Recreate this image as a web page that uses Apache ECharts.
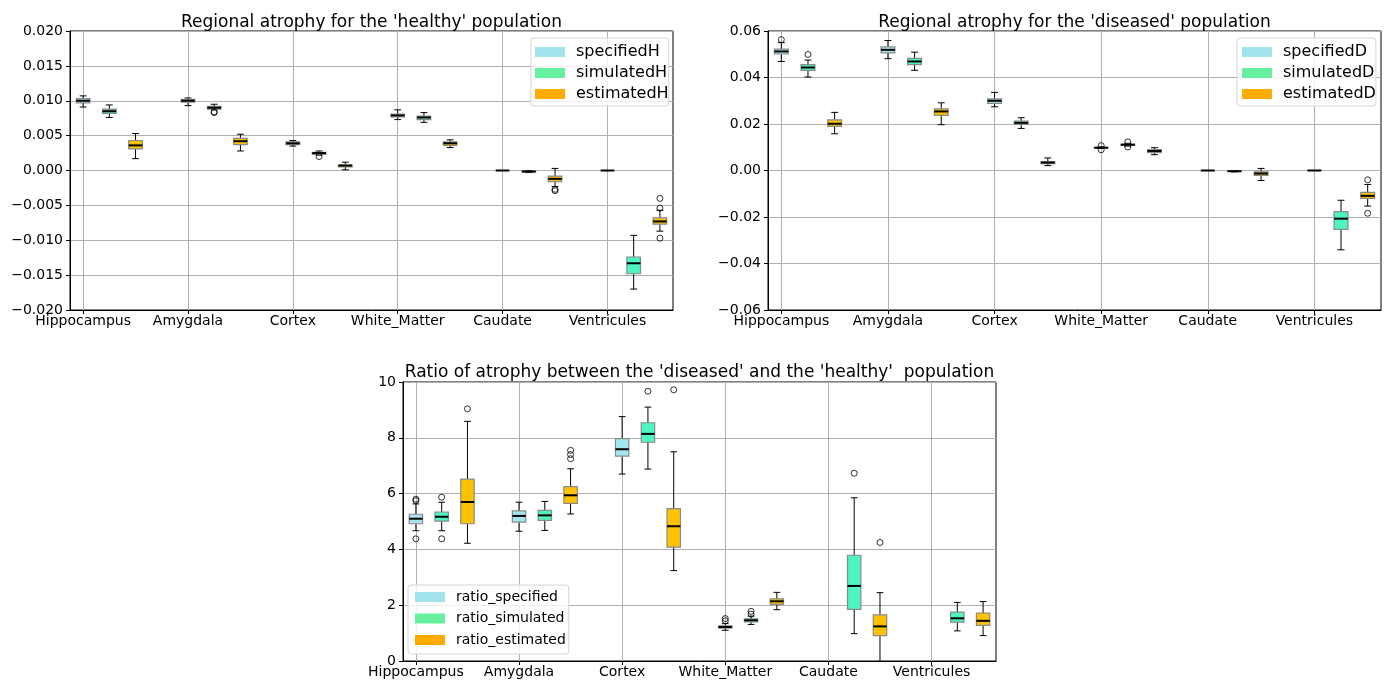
<!DOCTYPE html>
<html>
<head>
<meta charset="utf-8">
<script src="https://cdn.jsdelivr.net/npm/echarts@6/dist/echarts.min.js"></script>
<style>html,body{margin:0;padding:0;background:#fff}#c{width:1389px;height:683px}</style>
</head>
<body>
<div id="c"></div>
<script>
// ---------- DATA ----------
const regions = ['Hippocampus', 'Amygdala', 'Cortex', 'White_Matter', 'Caudate', 'Ventricules'];

// box stats: [min whisker, q1, median, q3, max whisker]
const specifiedH = [
  [0.0091, 0.0097, 0.0100, 0.0103, 0.0107],
  [0.0093, 0.0098, 0.0100, 0.0102, 0.0104],
  [0.0035, 0.0037, 0.0039, 0.0041, 0.0043],
  [0.0073, 0.0077, 0.0079, 0.0081, 0.0087],
  [0, 0, 0, 0, 0],
  [0, 0, 0, 0, 0]
];
const simulatedH = [
  [0.0076, 0.0082, 0.0085, 0.0088, 0.0094],
  [0.0087, 0.0088, 0.0090, 0.0092, 0.0095],
  [0.0022, 0.0023, 0.0025, 0.0026, 0.0028],
  [0.0069, 0.0073, 0.0076, 0.0078, 0.0083],
  [-0.0003, -0.0002, -0.00015, -0.0001, 0],
  [-0.0170, -0.0148, -0.0133, -0.0124, -0.0093]
];
const estimatedH = [
  [0.0017, 0.0031, 0.0036, 0.0043, 0.0053],
  [0.0028, 0.0037, 0.0042, 0.0046, 0.0052],
  [0.0001, 0.0005, 0.0007, 0.0008, 0.0012],
  [0.0033, 0.0036, 0.0039, 0.0041, 0.0044],
  [-0.0023, -0.0016, -0.0012, -0.0008, 0.0003],
  [-0.0087, -0.0077, -0.0073, -0.0068, -0.0057]
];
// outliers: [regionIndex, value]
const outSpecifiedH = [];
const outSimulatedH = [[1, 0.0084], [1, 0.0083], [2, 0.0020]];
const outEstimatedH = [[4, -0.0027], [4, -0.0029], [5, -0.0040], [5, -0.0054], [5, -0.0097]];

const specifiedD = [
  [0.0469, 0.0501, 0.0512, 0.0522, 0.0550],
  [0.0481, 0.0506, 0.0519, 0.0532, 0.0559],
  [0.0274, 0.0289, 0.0300, 0.0308, 0.0336],
  [0.0095, 0.0097, 0.0098, 0.0099, 0.0101],
  [0, 0, 0, 0, 0],
  [0, 0, 0, 0, 0]
];
const simulatedD = [
  [0.0402, 0.0431, 0.0443, 0.0455, 0.0475],
  [0.0431, 0.0455, 0.0469, 0.0482, 0.0509],
  [0.0181, 0.0198, 0.0205, 0.0212, 0.0227],
  [0.0105, 0.0108, 0.0111, 0.0113, 0.0117],
  [-0.0006, -0.0004, -0.0003, -0.0002, 0],
  [-0.0341, -0.0253, -0.0207, -0.0177, -0.0128]
];
const estimatedD = [
  [0.0158, 0.0190, 0.0201, 0.0218, 0.0250],
  [0.0197, 0.0237, 0.0254, 0.0265, 0.0291],
  [0.0021, 0.0029, 0.0034, 0.0038, 0.0054],
  [0.0068, 0.0077, 0.0084, 0.0090, 0.0098],
  [-0.0043, -0.0021, -0.0013, -0.0006, 0.0009],
  [-0.0153, -0.0120, -0.0109, -0.0094, -0.0060]
];
const outSpecifiedD = [[0, 0.0563], [3, 0.0107], [3, 0.0089]];
const outSimulatedD = [[0, 0.0499], [3, 0.0123], [3, 0.0101]];
const outEstimatedD = [[5, -0.0040], [5, -0.0184]];

const ratioSpecified = [
  [4.67, 4.92, 5.10, 5.26, 5.63],
  [4.65, 4.98, 5.20, 5.38, 5.69],
  [6.70, 7.34, 7.59, 7.97, 8.76],
  [1.10, 1.18, 1.22, 1.26, 1.34],
  null,
  null
];
const ratioSimulated = [
  [4.67, 5.01, 5.17, 5.34, 5.69],
  [4.68, 5.04, 5.22, 5.40, 5.72],
  [6.88, 7.84, 8.14, 8.54, 9.10],
  [1.31, 1.40, 1.46, 1.51, 1.61],
  [0.98, 1.85, 2.69, 3.79, 5.85],
  [1.08, 1.39, 1.53, 1.75, 2.10]
];
const ratioEstimated = [
  [4.22, 4.92, 5.70, 6.52, 8.59],
  [5.27, 5.65, 5.94, 6.25, 6.89],
  [3.24, 4.08, 4.83, 5.46, 7.50],
  [1.84, 2.03, 2.14, 2.23, 2.46],
  [-0.6, 0.91, 1.24, 1.65, 2.45],
  [0.91, 1.28, 1.44, 1.72, 2.13]
];
const outRatioSpecified = [[0, 5.80], [0, 5.75], [0, 4.38], [3, 1.52], [3, 1.44]];
const outRatioSimulated = [[0, 5.87], [0, 4.38], [2, 9.67], [3, 1.78], [3, 1.68], [4, 6.73]];
const outRatioEstimated = [[0, 9.04], [1, 7.55], [1, 7.40], [1, 7.25], [2, 9.72], [4, 4.25]];

const titles = [
  "Regional atrophy for the 'healthy' population",
  "Regional atrophy for the 'diseased' population",
  "Ratio of atrophy between the 'diseased' and the 'healthy'  population"
];
const legendNames = [
  ['specifiedH', 'simulatedH', 'estimatedH'],
  ['specifiedD', 'simulatedD', 'estimatedD'],
  ['ratio_specified', 'ratio_simulated', 'ratio_estimated']
];

// ---------- STYLE ----------
const FONT = 'DejaVu Sans';
const legendColors = ['#a2e2ea', '#66f09f', '#ffab00'];
const boxColors = ['#a3e6ef', '#4cf5c2', '#ffc200'];
const GROUP_STEP = 4; // slots per region (3 boxes + gap)

// build category slots: 23 positions, labels on the first slot of each region
const nSlots = regions.length * GROUP_STEP - 1;
const categories = [];
for (let i = 0; i < nSlots; i++) {
  categories.push(i % GROUP_STEP === 0 ? regions[i / GROUP_STEP] : ' ' + i);
}

function boxRenderer(fill) {
  return function (params, api) {
    const x = api.value(0);
    const ys = [1, 2, 3, 4, 5].map(d => api.coord([x, api.value(d)])[1]);
    const cx = api.coord([x, 0])[0];
    const bw = api.size([1, 0])[0] * 0.52;
    const half = bw / 2, cap = bw / 4;
    const [lo, q1, md, q3, hi] = ys;
    const blk = { stroke: '#000', lineWidth: 1 };
    return {
      type: 'group',
      children: [
        { type: 'line', shape: { x1: cx, y1: hi, x2: cx, y2: q3 }, style: blk },
        { type: 'line', shape: { x1: cx, y1: q1, x2: cx, y2: lo }, style: blk },
        { type: 'line', shape: { x1: cx - cap, y1: hi, x2: cx + cap, y2: hi }, style: blk },
        { type: 'line', shape: { x1: cx - cap, y1: lo, x2: cx + cap, y2: lo }, style: blk },
        { type: 'rect', shape: { x: cx - half, y: q3, width: bw, height: q1 - q3 },
          style: { fill: fill, stroke: '#8a8a8a', lineWidth: 1.2 } },
        { type: 'line', shape: { x1: cx - half, y1: md, x2: cx + half, y2: md },
          style: { stroke: '#000', lineWidth: 2 } }
      ]
    };
  };
}

const grids = [
  { left: 70, top: 31, width: 603, height: 279 },
  { left: 768, top: 31, width: 613, height: 279 },
  { left: 403, top: 382, width: 593, height: 279 }
];
const yCfg = [
  { min: -0.02, max: 0.02, interval: 0.005, dec: 3 },
  { min: -0.06, max: 0.06, interval: 0.02, dec: 2 },
  { min: 0, max: 10, interval: 2, dec: 0 }
];
const boxSets = [
  [specifiedH, simulatedH, estimatedH],
  [specifiedD, simulatedD, estimatedD],
  [ratioSpecified, ratioSimulated, ratioEstimated]
];
const outSets = [
  [outSpecifiedH, outSimulatedH, outEstimatedH],
  [outSpecifiedD, outSimulatedD, outEstimatedD],
  [outRatioSpecified, outRatioSimulated, outRatioEstimated]
];
const titleCenters = [[371.5, 14], [1074.5, 14], [699.5, 364]];
const legendPos = [
  { left: 531, top: 38, fontSize: 16, gap: 5, padding: [6, 0, 4, 4], tpad: 6 },
  { left: 1237, top: 38, fontSize: 16, gap: 5, padding: [6, 0, 4, 5], tpad: 6 },
  { left: 408, top: 585, fontSize: 14, gap: 7.5, padding: [5, 3, 7, 7], tpad: 6 }
];

const option = {
  animation: false,
  backgroundColor: '#fff',
  title: titles.map((t, i) => ({
    text: t, left: titleCenters[i][0], top: titleCenters[i][1], textAlign: 'center', padding: 0,
    textStyle: { fontFamily: FONT, fontSize: 17, fontWeight: 'normal', color: '#000' }
  })),
  grid: grids.map(g => Object.assign({
    show: true, borderColor: '#000', borderWidth: 1, backgroundColor: 'transparent',
    containLabel: false, outerBoundsMode: 'none'
  }, g)),
  legend: legendPos.map((p, i) => ({
    left: p.left, top: p.top, orient: 'vertical', icon: 'rect',
    itemWidth: 30, itemHeight: 10, itemGap: p.gap, padding: p.padding,
    backgroundColor: 'rgba(255,255,255,0.8)', borderColor: '#d6d6d6', borderWidth: 1, borderRadius: 3,
    selectedMode: false,
    textStyle: { fontFamily: FONT, fontSize: p.fontSize, color: '#000', padding: [0, 0, 0, p.tpad] },
    data: legendNames[i]
  })),
  xAxis: grids.map((g, i) => ({
    type: 'category', gridIndex: i, data: categories, boundaryGap: true,
    axisLine: { show: true, onZero: false, lineStyle: { color: '#000', width: 1 } },
    axisTick: { show: true, interval: GROUP_STEP - 1, alignWithLabel: true, length: 4, lineStyle: { color: '#000' } },
    axisLabel: {
      interval: GROUP_STEP - 1, margin: 4, color: '#000', fontFamily: FONT, fontSize: 14
    },
    splitLine: { show: true, interval: GROUP_STEP - 1, alignWithLabel: true, lineStyle: { color: '#b0b0b0', width: 1 } }
  })),
  yAxis: yCfg.map((c, i) => ({
    type: 'value', gridIndex: i, min: c.min, max: c.max, interval: c.interval,
    axisLine: { show: true, onZero: false, lineStyle: { color: '#000', width: 1 } },
    axisTick: { show: true, length: 4, lineStyle: { color: '#000' } },
    axisLabel: {
      margin: 7, color: '#000', fontFamily: FONT, fontSize: 14,
      formatter: v => v.toFixed(c.dec).replace('-', '\u2212')
    },
    splitLine: { show: true, lineStyle: { color: '#b0b0b0', width: 1 } }
  })),
  series: []
};

boxSets.forEach((set, gi) => {
  set.forEach((arr, k) => {
    const data = [];
    arr.forEach((s, r) => { if (s) data.push([r * GROUP_STEP + k].concat(s)); });
    option.series.push({
      type: 'custom', name: legendNames[gi][k], xAxisIndex: gi, yAxisIndex: gi,
      clip: true, renderItem: boxRenderer(boxColors[k]),
      itemStyle: { color: legendColors[k] },
      encode: { x: 0, y: [1, 2, 3, 4, 5] },
      data: data, z: 3
    });
  });
  outSets[gi].forEach((arr, k) => {
    if (!arr.length) return;
    option.series.push({
      type: 'scatter', name: 'out_' + gi + '_' + k, xAxisIndex: gi, yAxisIndex: gi,
      symbol: 'circle', symbolSize: 6,
      itemStyle: { color: 'rgba(255,255,255,0)', borderColor: '#000', borderWidth: 1 },
      data: arr.map(o => [o[0] * GROUP_STEP + k, o[1]]), z: 4
    });
  });
});

const chart = echarts.init(document.getElementById('c'), null, { renderer: 'canvas' });
chart.setOption(option);
</script>
</body>
</html>
